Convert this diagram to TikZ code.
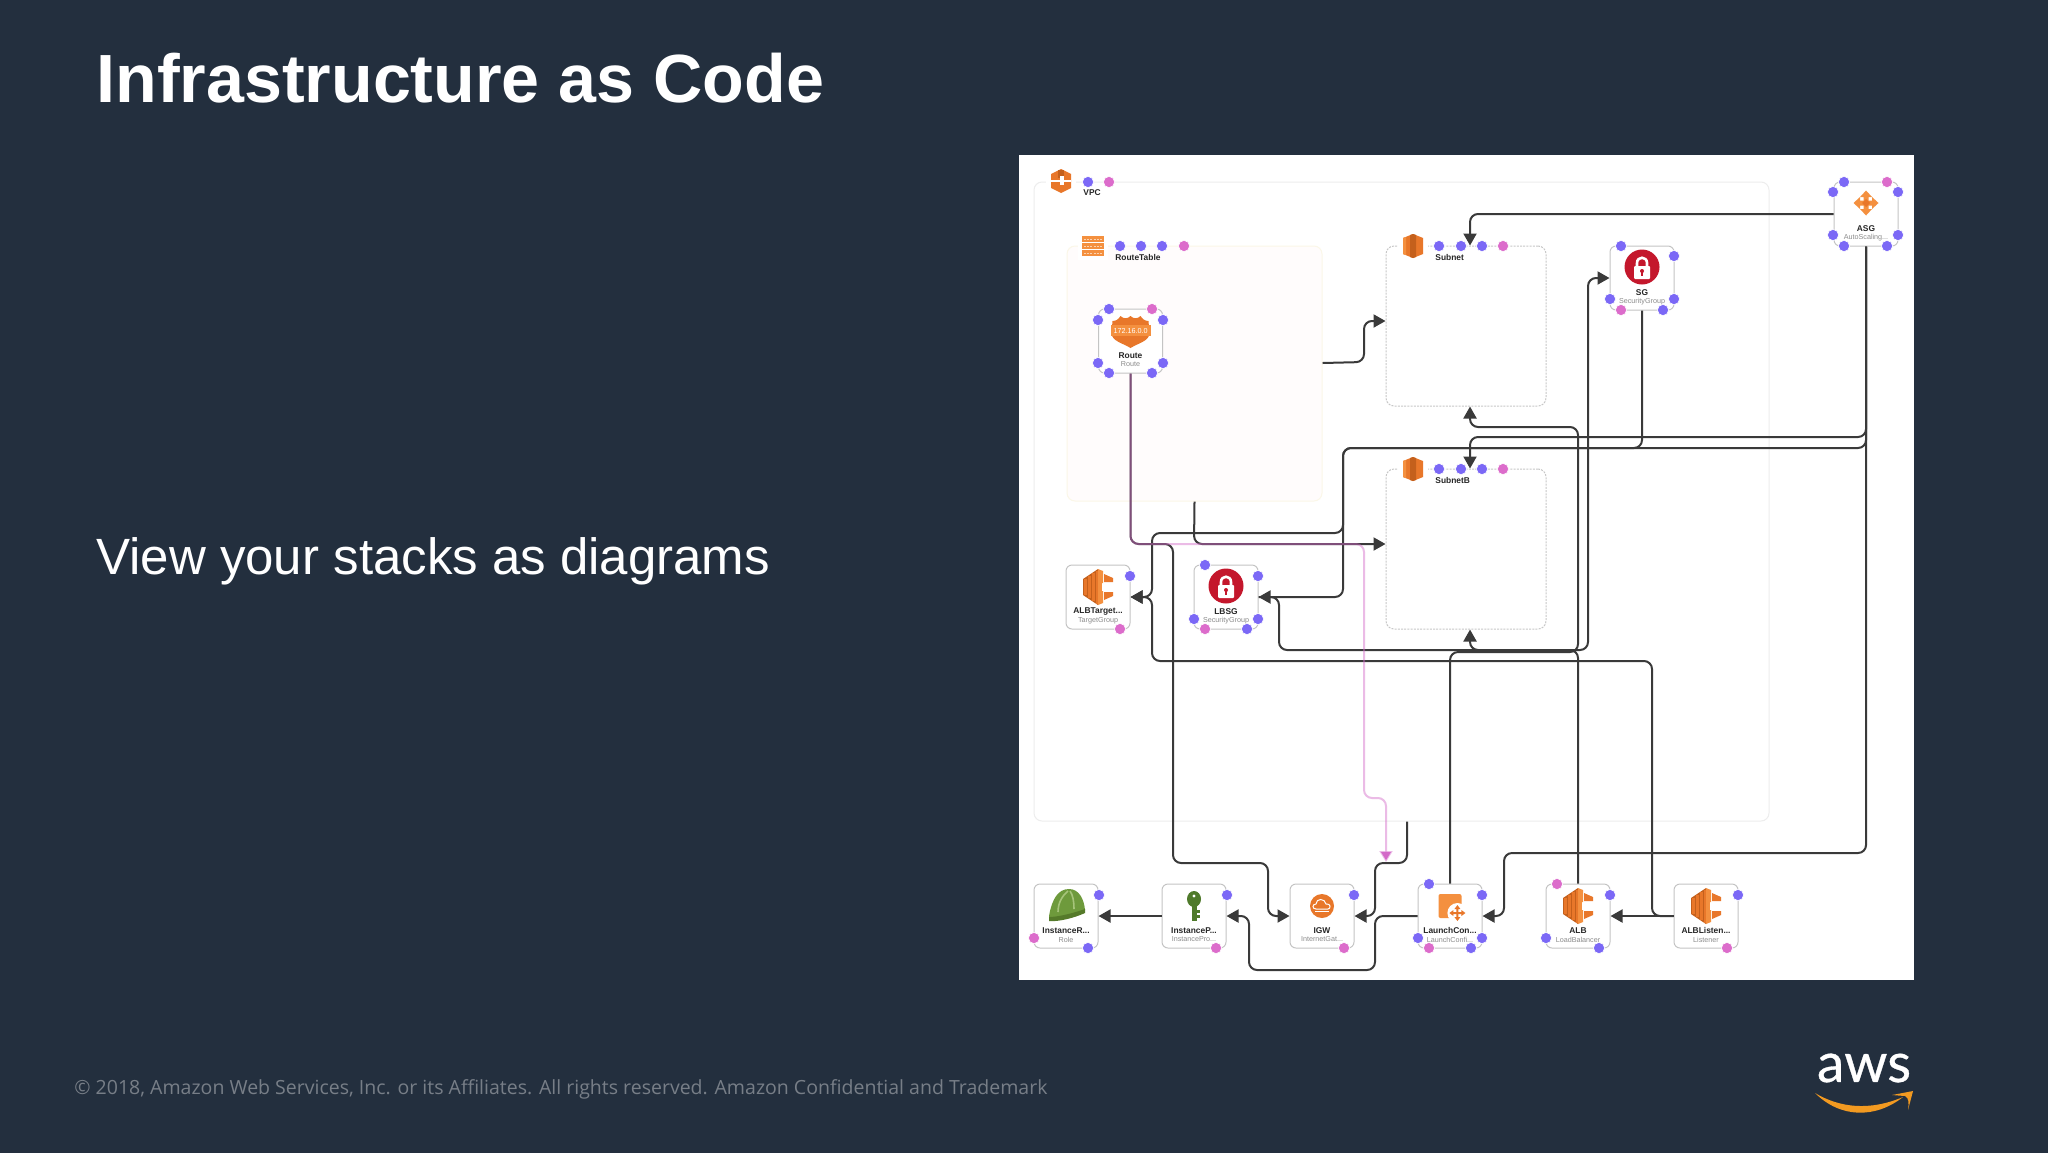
\documentclass[tikz,border=0pt]{standalone}
\usepackage{fontspec}
\setmainfont{Liberation Sans}
\newfontfamily\footfont{Open Sans}
\newfontfamily\logofont[FakeBold=0.6]{Lato}
\usetikzlibrary{arrows.meta}
\definecolor{slide}{HTML}{232F3E}
\definecolor{linkdark}{HTML}{3A3A3A}
\definecolor{boxgray}{HTML}{C4C4C4}
\definecolor{portblue}{HTML}{7B68F6}
\definecolor{portpink}{HTML}{DC6CCB}
\definecolor{edgepink}{HTML}{D36AC8}
\definecolor{icnorange}{HTML}{E8772A}
\definecolor{icndark}{HTML}{C4601C}
\definecolor{icnlight}{HTML}{F4903F}
\definecolor{lockred}{HTML}{C4172C}
\definecolor{smile}{HTML}{F29A21}
\definecolor{hatgreen}{HTML}{6E9A3C}
\definecolor{hatdark}{HTML}{557A2A}
\definecolor{hatlight}{HTML}{A6C47A}
\definecolor{keygreen}{HTML}{4F7A2B}
\definecolor{tableedge}{HTML}{FBF7E8}
\tikzset{every picture/.style={x=0.5pt,y=-0.5pt}}
\tikzset{
  res/.style={draw=boxgray, fill=white, line width=0.5pt, rounded corners=3pt, minimum width=32pt, minimum height=32pt, inner sep=0pt},
  group/.style={rounded corners=4pt, line width=0.5pt, inner sep=0pt},
  vpcbox/.style={group, draw=black!7, minimum width=367.5pt, minimum height=319.5pt},
  tablebox/.style={group, draw=tableedge, fill=red!1, minimum width=127.5pt, minimum height=127.5pt},
  subnetbox/.style={group, draw=black!22, dash pattern=on 1pt off 0.6pt, minimum width=80pt, minimum height=80pt},
  reslabel/.style={font=\bfseries\fontsize{4.2}{5}\selectfont, text=black!85, inner sep=0pt},
  restype/.style={font=\fontsize{3.6}{4.5}\selectfont, text=black!45, inner sep=0pt},
  grouplabel/.style={reslabel, anchor=west},
  port/.style={circle, fill=portblue, draw=white, line width=0.3pt, inner sep=0pt, minimum size=5.6pt},
  pinkport/.style={port, fill=portpink},
  link/.style={draw=linkdark, line width=1pt, rounded corners=4pt, -{Triangle[length=6pt,width=6.5pt]}},
  pinklink/.style={draw=edgepink, draw opacity=0.45, line width=1pt, rounded corners=4pt, -{Triangle[length=5.5pt,width=6.5pt,fill=edgepink]}},
  vpcicon/.pic={
    \fill[white] (-15,-15) rectangle (15,15);
    \fill[icnorange] (-10,-7) -- (0,-12) -- (10,-7) -- (10,7) -- (0,12) -- (-10,7) -- cycle;
    \fill[icndark] (-3,-11) rectangle (3,-3);
    \fill[white] (-10,-1) rectangle (10,1);
    \fill[white] (-1,-5) rectangle (3,4);
  },
  tableicon/.pic={
    \fill[white] (-15,-14) rectangle (15,14);
    \fill[icnlight] (-11,-10) rectangle (11,10);
    \fill[white] (-11,-4) rectangle (11,-3);
    \fill[white] (-11,3) rectangle (11,4);
    \draw[white!60!icnlight, line width=0.4pt, dash pattern=on 1pt off 0.6pt] (-9,-7) -- (9,-7) (-9,0) -- (9,0) (-9,7) -- (9,7);
  },
  subneticon/.pic={
    \fill[white] (-15,-15) rectangle (15,15);
    \fill[icnorange] (-10,-8) -- (0,-12) -- (10,-8) -- (10,8) -- (0,12) -- (-10,8) -- cycle;
    \fill[icndark] (-3,-11) -- (0,-12) -- (3,-11) -- (3,11) -- (0,12) -- (-3,11) -- cycle;
    \fill[icnlight] (-10,-8) -- (-7,-9) -- (-7,9) -- (-10,8) -- cycle;
  },
  shieldicon/.pic={
    \fill[icnorange] (-18,-10) .. controls (-14,-10) and (-12,-12) .. (-10,-15)
      .. controls (-7,-12) and (-3,-12) .. (0,-15) .. controls (3,-12) and (7,-12) .. (10,-15)
      .. controls (12,-12) and (14,-10) .. (18,-10) -- (19,2) .. controls (19,10) and (8,12) .. (0,17)
      .. controls (-8,12) and (-19,10) .. (-19,2) -- cycle;
    \fill[icnlight] (-20,-6) rectangle (20,5);
    \node[text=white, inner sep=0pt, font=\fontsize{3.6}{4}\selectfont] (routeaddr) at (0,0) {172.16.0.0};
  },
  lockicon/.pic={
    \fill[lockred] (0,0) circle[radius=17.5];
    \draw[white, line width=1.3pt] (-5,0) -- (-5,-4) .. controls (-5,-11) and (5,-11) .. (5,-4) -- (5,0);
    \fill[white, rounded corners=0.5pt] (-8,-1) rectangle (8,12);
    \fill[lockred] (0,4) circle[radius=2];
    \fill[lockred] (-0.8,4) rectangle (0.8,9);
  },
  scaleicon/.pic={
    \foreach \a in {0,90,180,270} {
      \fill[icnlight, rotate=\a] (0,-2.5) -- (6,-2.5) -- (6,-6) -- (12.5,0) -- (6,6) -- (6,2.5) -- (0,2.5) -- cycle;
    }
    \fill[icnorange] (-4,0) -- (0,-4) -- (4,0) -- (0,4) -- cycle;
  },
  lbicon/.pic={
    \fill[icndark] (-15,-8) -- (-3,-16) -- (0,-18) -- (0,18) -- (-3,16) -- (-15,8) -- cycle;
    \fill[icnorange] (-14.5,-8) rectangle (-11.5,8);
    \fill[icnorange] (-10.5,-11) rectangle (-7.5,11);
    \fill[icnorange] (-6.5,-14) rectangle (-3.5,14);
    \fill[icnorange] (-2.5,-16.5) rectangle (0,16.5);
    \fill[icnlight] (0,-18) -- (5,-16) -- (5,-4) -- (0,-4) -- cycle;
    \fill[icnlight] (0,-4) rectangle (4,4);
    \fill[icnlight] (0,4) -- (5,4) -- (5,16) -- (0,18) -- cycle;
    \fill[icnorange] (6,-13) -- (15,-9) -- (15,-5) -- (6,-5) -- cycle;
    \fill[icnorange] (6,5) -- (15,5) -- (15,9) -- (6,13) -- cycle;
  },
  helmeticon/.pic={
    \fill[hatgreen] (-17,11) .. controls (-14,-6) and (-8,-16) .. (3,-16)
      .. controls (13,-16) and (18,-6) .. (19,5) .. controls (8,10) and (-8,14) .. (-17,13) -- cycle;
    \fill[hatdark] (-17,12) .. controls (-8,12) and (8,8) .. (19,4) -- (19,8)
      .. controls (8,13) and (-8,17) .. (-17,16) -- cycle;
    \draw[hatlight, line width=0.8pt] (-8,7) .. controls (-8,-3) and (-3,-10) .. (2,-14);
    \draw[hatlight, line width=0.8pt] (8,4) .. controls (8,-3) and (7,-10) .. (4,-14);
  },
  keyicon/.pic={
    \fill[keygreen] (0,-8) circle[x radius=7,y radius=8];
    \fill[white] (0,-11) circle[radius=1.7];
    \fill[keygreen] (-2.5,-2) rectangle (2.5,14);
    \fill[keygreen] (2.5,3) rectangle (6,6);
    \fill[keygreen] (2.5,8) rectangle (6,11);
  },
  cloudicon/.pic={
    \fill[icnorange] (0,0) circle[radius=12];
    \draw[white, line width=0.5pt] (-6,3) .. controls (-10,3) and (-10,-2) .. (-6,-2)
      .. controls (-6,-8) and (3,-8) .. (4,-2) .. controls (9,-3) and (9,3) .. (6,3) -- cycle;
    \draw[white, line width=0.4pt] (-7,5.5) -- (7,5.5);
  },
  launchicon/.pic={
    \fill[icnlight, rounded corners=1pt] (-11.5,-12) rectangle (11.5,12);
    \fill[white] (7.4,7) circle[radius=10];
    \foreach \a in {0,90,180,270} {
      \fill[icnorange, shift={(7.4,7)}, rotate=\a] (0,-1) -- (4,-1) -- (4,-3) -- (8,0) -- (4,3) -- (4,1) -- (0,1) -- cycle;
    }
  }
}

\begin{document}
\begin{tikzpicture}
\useasboundingbox (0,0) rectangle (2048,1152);
\fill[slide] (-6,-6) rectangle (2054,1158);
\fill[white] (1018.5,155) rectangle (1914,980);

\node[anchor=west, text=white, inner sep=0pt, font=\bfseries\fontsize{34.1}{40}\selectfont] (title) at (96,78) {Infrastructure as Code};
\node[anchor=west, text=white, inner sep=0pt, font=\fontsize{25.5}{30}\selectfont] (subtitle) at (96,561) {View your stacks as diagrams};
\node[anchor=west, text=white!38!slide, inner sep=0pt, font=\footfont\fontsize{9.76}{12}\selectfont] (footer) at (74,1089) {© 2018, Amazon Web Services, Inc. or its Affiliates. All rights reserved. Amazon Confidential and Trademark};

% logo
\node[text=white, inner sep=0pt, font=\logofont\fontsize{27.5}{30}\selectfont] (awsword) at (1864,1068) {aws};
\fill[smile] (1815,1093) .. controls (1840,1108) and (1870,1111) .. (1903,1097)
  .. controls (1875,1119) and (1840,1118) .. (1815,1093) -- cycle;
\fill[smile] (1892,1095) -- (1913,1091) -- (1908,1110) .. controls (1909,1103) and (1909,1098) .. (1905,1096) -- cycle;

% containers
\node[vpcbox] (vpc) at (1401.5,501.5) {};
\node[tablebox] (routetable) at (1194.5,373.5) {};
\node[subnetbox] (subnet) at (1466,326) {};
\node[subnetbox] (subnetb) at (1466,549) {};
\pic at (1061,181) {vpcicon};
\pic at (1093,246) {tableicon};
\pic at (1413,246) {subneticon};
\pic at (1413,469) {subneticon};
\node[grouplabel] (vpclabel) at (1083,193) {VPC};
\node[grouplabel] (routetablelabel) at (1115,257) {RouteTable};
\node[grouplabel] (subnetlabel) at (1435,257) {Subnet};
\node[grouplabel] (subnetblabel) at (1435,480) {SubnetB};

% resources
\foreach \nm/\cx/\cy/\lab/\typ/\icn/\iy in {
    route/1130.5/341/Route/Route/shieldicon/-10,
    sg/1642/278/SG/SecurityGroup/lockicon/-11,
    asg/1866/214/ASG/{AutoScaling...}/scaleicon/-11,
    albtarget/1098/597/{ALBTarget...}/TargetGroup/lbicon/-10,
    lbsg/1226/597/LBSG/SecurityGroup/lockicon/-11,
    instancer/1066/916/{InstanceR...}/Role/helmeticon/-11,
    instancep/1194/916/{InstanceP...}/{InstancePro...}/keyicon/-9,
    igw/1322/916/IGW/{InternetGat...}/cloudicon/-10,
    launchcon/1450/916/{LaunchCon...}/{LaunchConfi...}/launchicon/-10,
    alb/1578/916/ALB/LoadBalancer/lbicon/-10,
    alblisten/1706/916/{ALBListen...}/Listener/lbicon/-10} {
  \node[res] (\nm) at (\cx,\cy) {};
  \pic at (\cx,\cy+\iy) {\icn};
  \node[reslabel] (\nm label) at (\cx,\cy+14.5) {\lab};
  \node[restype] (\nm type) at (\cx,\cy+23.5) {\typ};
}

% connectors
\draw[link] (routetable.east |- 0,363) -- (1364,362) -- (1364,321) -- (subnet.west |- 0,321);
\draw[link] (routetable.south) -- (1194,544) -- (subnetb.west |- 0,544);
\draw[link] (asg.west) -- (1470,214) -- (subnet.north -| 1470,0);
\draw[link] (asg.south) -- (1866,437) -- (1470,437) -- (subnetb.north -| 1470,0);
\draw[link] (asg.south) -- (1866,448) -- (1343,448) -- (1343,533) -- (1152,533) -- (1152,597) -- (albtarget.east);
\draw[link] (sg.south) -- (1642,448) -- (1343,448) -- (1343,597) -- (lbsg.east);
\draw[link] (lbsg.east) -- (1279,597) -- (1279,650) -- (1588,650) -- (1588,278) -- (sg.west);
\draw[link] (asg.south) -- (1866,853) -- (1504,853) -- (1504,916) -- (launchcon.east);
\draw[link] (alb.north) -- (1578,650) -- (1470,650) -- (subnetb.south -| 1470,0);
\draw[link] (launchcon.north) -- (1450,652) -- (1578,652) -- (1578,427) -- (1470,427) -- (subnet.south -| 1470,0);
\draw[link] (alblisten.west) -- (alb.east);
\draw[link] (alblisten.west) -- (1652,916) -- (1652,661) -- (1152,661) -- (1152,597) -- (albtarget.east);
\draw[link] (launchcon.west) -- (1375,916) -- (1375,970) -- (1249,970) -- (1249,916) -- (instancep.east);
\draw[link] (instancep.west) -- (instancer.east);
\draw[link] (vpc.south -| 1407,0) -- (1407,863) -- (1375,863) -- (1375,916) -- (igw.east);
\draw[link] (route.south) -- (1130.5,544) -- (1173,544) -- (1173,863) -- (1268,863) -- (1268,916) -- (igw.west);
\coordinate (pinkend) at (1386,862);
\draw[pinklink] (route.south) -- (1130.5,544) -- (1364,544) -- (1364,798) -- (1386,798) -- (pinkend);

% ports
\foreach \px/\py [count=\i] in {1088/182,1120/246,1141/246,1162/246,1439/246,1461/246,1482/246,1439/469,1461/469,1482/469,
    1109/309,1098/320,1163/320,1098/363,1163/363,1109/373,1152/373,
    1621/246,1674/256,1610/299,1674/299,1663/310,
    1844/182,1833/192,1898/192,1833/235,1898/235,1844/246,1887/246,
    1130/576,1205/565,1258/576,1194/619,1258/619,1247/629,
    1099/895,1088/948,1227/895,1354/895,
    1429/884,1482/895,1418/938,1482/938,1471/948,
    1610/895,1546/938,1599/948,1738/895} {
  \node[port] (port\i) at (\px,\py) {};
}
\foreach \px/\py [count=\i] in {1109/182,1184/246,1503/246,1503/469,1152/309,1887/182,1621/310,
    1120/629,1205/629,1034/938,1216/948,1344/948,1429/948,1557/884,1727/948} {
  \node[pinkport] (pink\i) at (\px,\py) {};
}
\end{tikzpicture}
\end{document}
